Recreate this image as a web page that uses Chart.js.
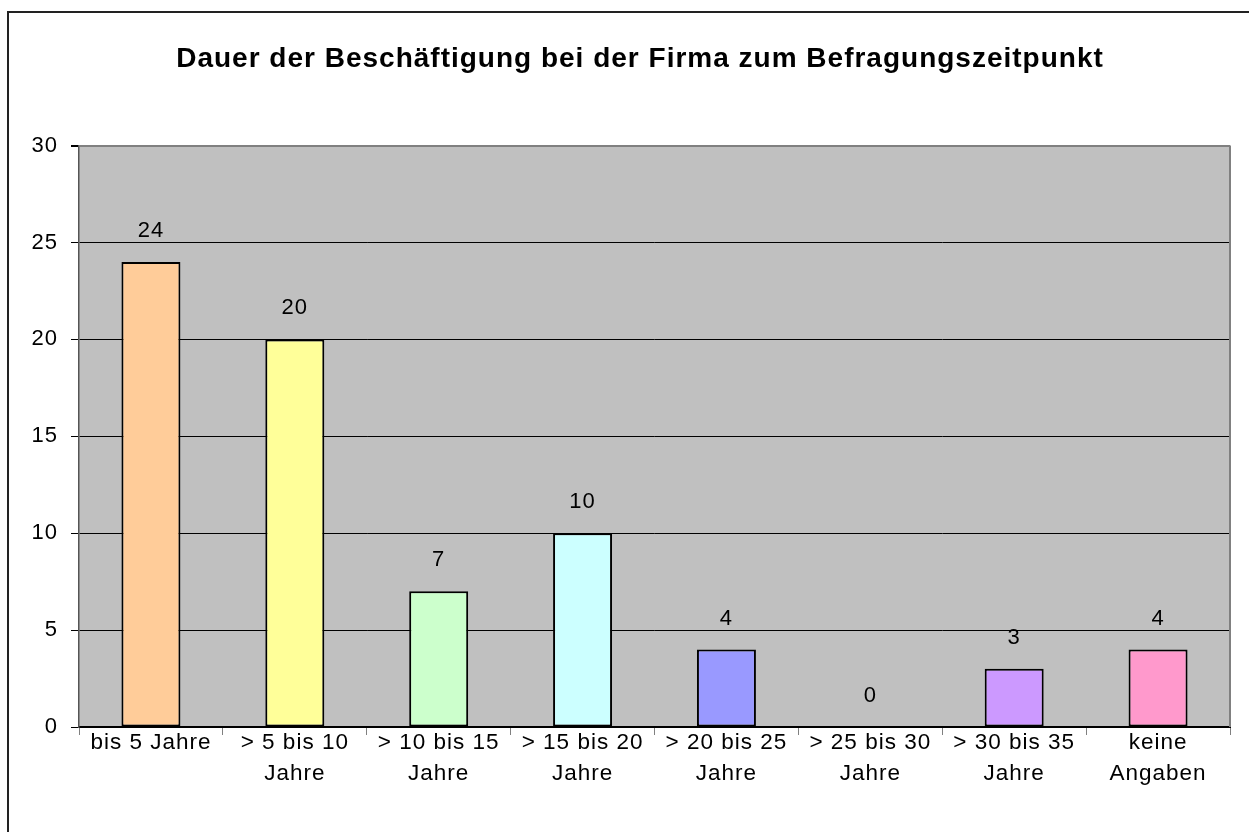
<!DOCTYPE html>
<html>
<head>
<meta charset="utf-8">
<script src="https://cdn.jsdelivr.net/npm/chart.js@4"></script>
<style>
  html, body { margin: 0; padding: 0; background: #fff; overflow: hidden; }
  #frame {
    position: absolute; left: 7px; top: 11px;
    width: 1262px; height: 840px;
    border: 2px solid #222;
  }
  #frame canvas { display: block; }
</style>
</head>
<body>
<div id="frame"><canvas id="durationChart" width="1262" height="840"></canvas></div>
<script>
  // categories (wrapped over two lines like the original)
  const categories = [
    ["bis 5 Jahre"],
    ["> 5 bis 10", "Jahre"],
    ["> 10 bis 15", "Jahre"],
    ["> 15 bis 20", "Jahre"],
    ["> 20 bis 25", "Jahre"],
    ["> 25 bis 30", "Jahre"],
    ["> 30 bis 35", "Jahre"],
    ["keine", "Angaben"]
  ];
  const counts = [24, 20, 7, 10, 4, 0, 3, 4];
  const barColors = ["#FFCC99", "#FFFF99", "#CCFFCC", "#CCFFFF", "#9999FF", "#99CCFF", "#CC99FF", "#FF99CC"];
  const yMax = 30;
  const yStep = 5;

  const FONT = "'Liberation Sans', Arial, sans-serif";

  // the original text is set a little wider than the canvas default
  const spacing = {
    id: "spacing",
    beforeLayout(chart) { chart.ctx.letterSpacing = "1px"; },
    beforeDraw(chart) { chart.ctx.letterSpacing = "1px"; }
  };

  // gray plot background + gray right edge
  const plotArea = {
    id: "plotArea",
    beforeDraw(chart) {
      const { ctx, chartArea: a } = chart;
      ctx.save();
      ctx.fillStyle = "#C0C0C0";
      ctx.fillRect(a.left, a.top, a.right - a.left, a.bottom - a.top);
      ctx.restore();
    },
    beforeDatasetsDraw(chart) {
      const { ctx, chartArea: a } = chart;
      ctx.save();
      ctx.strokeStyle = "#808080";
      ctx.lineWidth = 2;
      ctx.beginPath();
      ctx.moveTo(a.right, a.top);
      ctx.lineTo(a.right, a.bottom);
      ctx.stroke();
      ctx.restore();
    }
  };

  // value labels above the bars
  const valueLabels = {
    id: "valueLabels",
    afterDatasetsDraw(chart) {
      const { ctx } = chart;
      const meta = chart.getDatasetMeta(0);
      ctx.save();
      ctx.font = "22px " + FONT;
      ctx.fillStyle = "#000";
      ctx.textAlign = "center";
      ctx.textBaseline = "middle";
      meta.data.forEach((bar, i) => {
        ctx.fillText(String(counts[i]), bar.x, bar.y - 31);
      });
      ctx.restore();
    }
  };

  document.addEventListener("DOMContentLoaded", () => {
    const ctx = document.getElementById("durationChart").getContext("2d");
    new Chart(ctx, {
      type: "bar",
      data: {
        labels: categories,
        datasets: [
          {
            label: "Anzahl",
            data: counts,
            backgroundColor: barColors,
            borderColor: "#000",
            borderWidth: 2,
            borderSkipped: false,
            barPercentage: 0.41,
            categoryPercentage: 1
          }
        ]
      },
      options: {
        responsive: false,
        animation: false,
        layout: { padding: 0 },
        plugins: {
          legend: { display: false },
          tooltip: { enabled: false },
          title: {
            display: true,
            text: "Dauer der Beschäftigung bei der Firma zum Befragungszeitpunkt",
            color: "#000",
            font: { family: FONT, size: 28, weight: "bold", lineHeight: 1.2 },
            padding: { top: 29, bottom: 70 }
          }
        },
        scales: {
          x: {
            afterFit(scale) { scale.height = 126; },
            grid: {
              display: true,
              drawOnChartArea: false,
              drawTicks: true,
              tickLength: 8,
              color: "#808080",
              lineWidth: 1
            },
            border: { display: true, color: "#000", width: 2 },
            ticks: {
              color: "#000",
              padding: -8,
              maxRotation: 0,
              autoSkip: false,
              font: { family: FONT, size: 22.5, lineHeight: 1.38 }
            }
          },
          y: {
            min: 0,
            max: yMax,
            afterFit(scale) { scale.width = 70; },
            grid: {
              color: (c) => (c.tick && c.tick.value === yMax ? "#808080" : "#000"),
              lineWidth: (c) => (c.tick && c.tick.value === yMax ? 2 : 1),
              tickColor: "#000",
              tickLength: 8
            },
            border: { display: true, color: "#555", width: 1.5 },
            ticks: {
              stepSize: yStep,
              color: "#000",
              padding: 13,
              font: { family: FONT, size: 22 }
            }
          },
          // empty right margin, so the title stays centred on the whole frame
          yRight: {
            position: "right",
            min: 0,
            max: yMax,
            afterFit(scale) { scale.width = 41; },
            grid: { display: false },
            border: { display: false },
            ticks: { display: false }
          }
        }
      },
      plugins: [spacing, plotArea, valueLabels]
    });
  });
</script>
</body>
</html>
